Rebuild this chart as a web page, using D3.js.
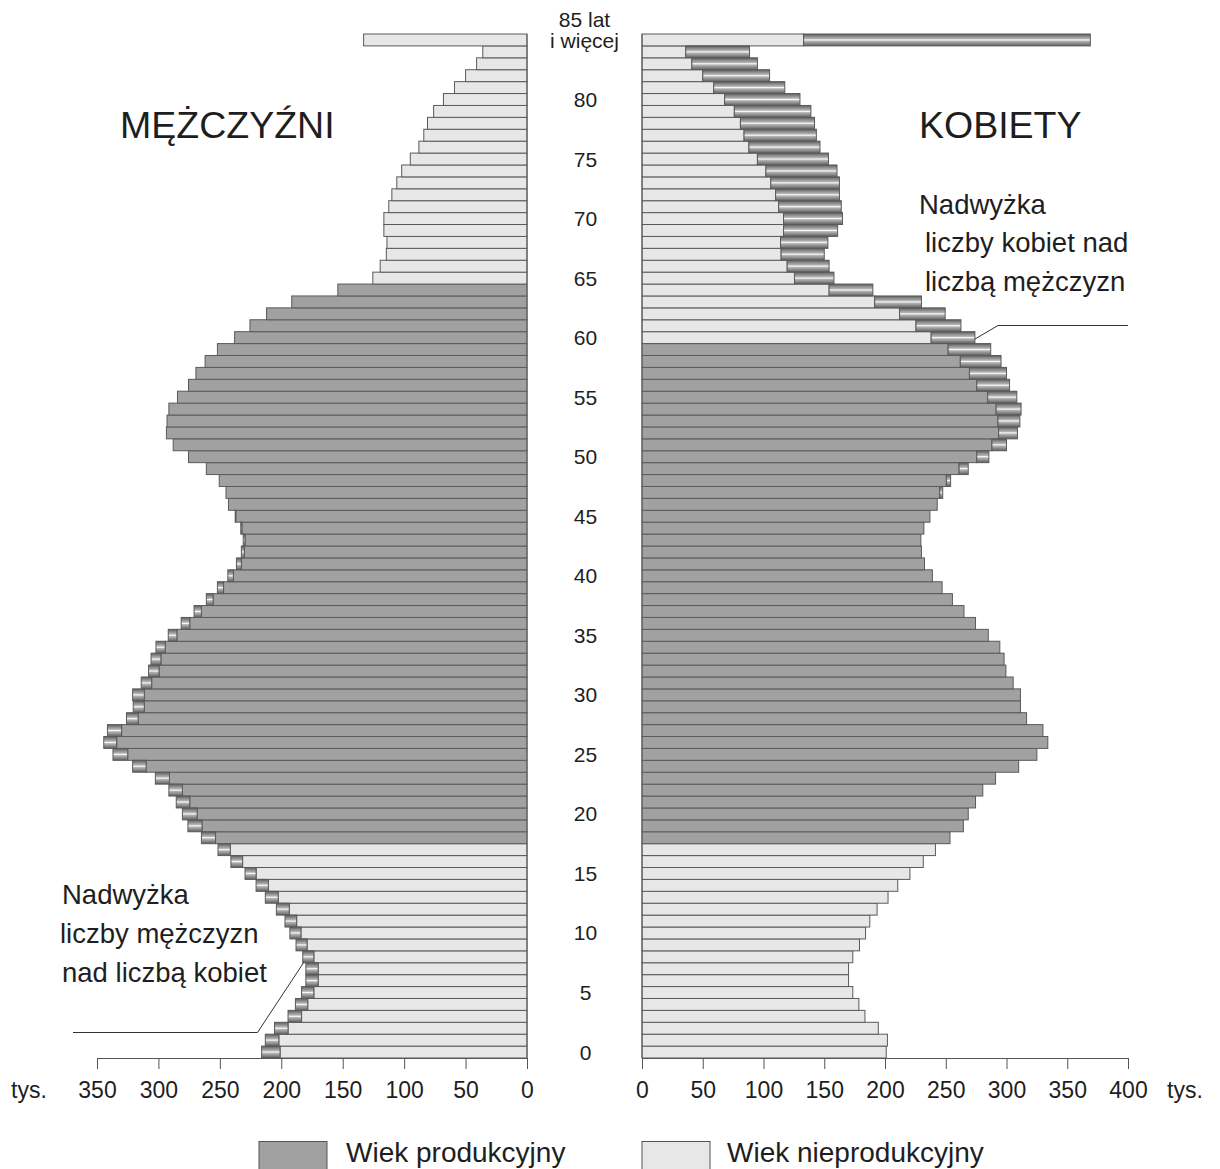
<!DOCTYPE html>
<html>
<head>
<meta charset="utf-8">
<script src="https://cdn.jsdelivr.net/npm/d3@7/dist/d3.min.js"></script>
<style>
  html, body { margin: 0; padding: 0; background: #fff; }
  svg { display: block; }
  text { font-family: "Liberation Sans", Arial, Helvetica, sans-serif; fill: #1e1e1e; }
</style>
</head>
<body>
<svg id="chart" width="1220" height="1169"></svg>
<script>
// ---- data (thousands) ----
const ages = [0,1,2,3,4,5,6,7,8,9,10,11,12,13,14,15,16,17,18,19,20,21,22,23,24,25,26,27,28,29,
  30,31,32,33,34,35,36,37,38,39,40,41,42,43,44,45,46,47,48,49,50,51,52,53,54,55,56,57,58,59,
  60,61,62,63,64,65,66,67,68,69,70,71,72,73,74,75,76,77,78,79,80,81,82,83,84,85];

const men = [216,213,205.5,194.5,188.5,183.5,180,180,182.5,188,193,197,204,213,220.5,229.5,241,251.5,265,276,
  280.5,285.5,291.5,302.5,321,337,344.5,341.5,326,320.5,321,314,308,306,302,292,281.5,271,261,252,
  243.5,236.5,232.5,231,233,237.5,243,245,250.5,261,275.5,288,293.5,293,291.5,284.5,275.5,269.5,262,252,
  238,225.5,212,191.5,154,125.5,119.5,114.5,114,116.5,116.5,112.5,110,106,102,95,88,84,81,76,
  68,59,50,41,36,133];

const women = [201,202,194.5,183.5,178.5,173.5,170,170,173.5,179,184,187.5,193.5,202.5,210.5,220.5,231.5,241.5,253.5,264.5,
  268.5,274.5,280.5,291,310,325,334,330,316.5,311.5,311.5,305.5,299.5,298,294.5,285,274.5,265,255.5,247,
  239,232.5,230,229.5,232,237,243,247.5,254,268.5,285.5,300,309,311,312,308.5,302.5,300,295.5,287,
  274,262.5,249.5,230,190,158,154,150,153,161,165,164,162.5,162.5,160.5,153.5,146.5,143.5,142,139,
  130,117.5,105,95,88.5,369];

const leftTicks = [0,50,100,150,200,250,300,350];
const rightTicks = [0,50,100,150,200,250,300,350,400];
const ageTicks = [0,5,10,15,20,25,30,35,40,45,50,55,60,65,70,75,80];
const topAgeLabel = ["85 lat", "i więcej"];
const menProductive = [18, 64];
const womenProductive = [18, 59];
const legendLabels = ["Wiek produkcyjny", "Wiek nieprodukcyjny"];
const unitLabel = "tys.";

// ---- layout ----
const svg = d3.select("#chart");
const DARK = "#a1a1a1", LIGHT = "#e7e7e7", STROKE = "#5a5a5a";

const y = d3.scaleBand().domain(ages.slice().reverse()).range([34, 1058]).padding(0);
const xL = d3.scaleLinear().domain([0, 350]).range([527, 97]);
const xR = d3.scaleLinear().domain([0, 400]).range([642, 1128]);

const defs = svg.append("defs");
const grad = defs.append("linearGradient").attr("id", "excess")
  .attr("x1", 0).attr("y1", 0).attr("x2", 0).attr("y2", 1);
[[0,"#5c5c5c"],[0.2,"#8a8a8a"],[0.4,"#b4b4b4"],[0.5,"#fbfbfb"],[0.6,"#b4b4b4"],[0.8,"#8a8a8a"],[1,"#5c5c5c"]]
  .forEach(([o,c]) => grad.append("stop").attr("offset", o).attr("stop-color", c));

const rows = ages.map((a, i) => ({ age: a, m: men[i], w: women[i] }));

const gBars = svg.append("g").attr("stroke", STROKE).attr("stroke-width", 1);

// left side (men)
gBars.selectAll(".lc").data(rows).join("rect").attr("class", "lc")
  .attr("x", d => xL(Math.min(d.m, d.w)))
  .attr("y", d => y(d.age))
  .attr("width", d => xL(0) - xL(Math.min(d.m, d.w)))
  .attr("height", y.bandwidth())
  .attr("fill", d => (d.age >= menProductive[0] && d.age <= menProductive[1]) ? DARK : LIGHT);

gBars.selectAll(".le").data(rows.filter(d => d.m > d.w)).join("rect").attr("class", "le")
  .attr("x", d => xL(d.m))
  .attr("y", d => y(d.age))
  .attr("width", d => xL(d.w) - xL(d.m))
  .attr("height", y.bandwidth())
  .attr("fill", "url(#excess)");

// right side (women)
gBars.selectAll(".rc").data(rows).join("rect").attr("class", "rc")
  .attr("x", xR(0))
  .attr("y", d => y(d.age))
  .attr("width", d => xR(Math.min(d.m, d.w)) - xR(0))
  .attr("height", y.bandwidth())
  .attr("fill", d => (d.age >= womenProductive[0] && d.age <= womenProductive[1]) ? DARK : LIGHT);

gBars.selectAll(".re").data(rows.filter(d => d.w > d.m)).join("rect").attr("class", "re")
  .attr("x", d => xR(d.m))
  .attr("y", d => y(d.age))
  .attr("width", d => xR(d.w) - xR(d.m))
  .attr("height", y.bandwidth())
  .attr("fill", "url(#excess)");

// spines
svg.append("line").attr("x1", xL(0)).attr("x2", xL(0)).attr("y1", 34).attr("y2", 1058)
  .attr("stroke", "#666").attr("stroke-width", 1.2);
svg.append("line").attr("x1", xR(0)).attr("x2", xR(0)).attr("y1", 34).attr("y2", 1058)
  .attr("stroke", "#666").attr("stroke-width", 1.2);

// axes
function styleAxis(g) {
  g.select(".domain").attr("stroke", "#555");
  g.selectAll(".tick line").attr("stroke", "#555");
  g.selectAll(".tick text").attr("font-size", 23)
    .attr("font-family", '"Liberation Sans", Arial, sans-serif').attr("fill", "#1e1e1e");
}
svg.append("g").attr("transform", "translate(0,1058)")
  .call(d3.axisBottom(xL).tickValues(leftTicks).tickSize(11).tickSizeOuter(0).tickPadding(13))
  .call(styleAxis);
svg.append("g").attr("transform", "translate(0,1058)")
  .call(d3.axisBottom(xR).tickValues(rightTicks).tickSize(11).tickSizeOuter(0).tickPadding(13))
  .call(styleAxis);

svg.append("text").attr("x", 29).attr("y", 1098).attr("text-anchor", "middle")
  .attr("font-size", 23).text(unitLabel);
svg.append("text").attr("x", 1185).attr("y", 1098).attr("text-anchor", "middle")
  .attr("font-size", 23).text(unitLabel);

// age labels
const midX = (xL(0) + xR(0)) / 2;
svg.selectAll(".age").data(ageTicks).join("text").attr("class", "age")
  .attr("x", midX + 1).attr("y", a => y(a) + y.bandwidth() / 2 + 7.5)
  .attr("text-anchor", "middle").attr("font-size", 21).text(a => a);
svg.append("text").attr("x", midX).attr("y", 26.5).attr("text-anchor", "middle")
  .attr("font-size", 21).text(topAgeLabel[0]);
svg.append("text").attr("x", midX).attr("y", 48).attr("text-anchor", "middle")
  .attr("font-size", 21).text(topAgeLabel[1]);

// titles
svg.append("text").attr("x", 120).attr("y", 138).attr("font-size", 37.5).text("MĘŻCZYŹNI");
svg.append("text").attr("x", 919).attr("y", 138).attr("font-size", 37.5).text("KOBIETY");

// annotations
const annR = [["Nadwyżka", 919, 214], ["liczby kobiet nad", 925, 252], ["liczbą mężczyzn", 925, 291]];
annR.forEach(([t, x, yy]) => svg.append("text").attr("x", x).attr("y", yy).attr("font-size", 27.5).text(t));
const annL = [["Nadwyżka", 62, 904], ["liczby mężczyzn", 60, 943], ["nad liczbą kobiet", 62, 982]];
annL.forEach(([t, x, yy]) => svg.append("text").attr("x", x).attr("y", yy).attr("font-size", 27.5).text(t));

svg.append("polyline").attr("points", "975,339 998,325.5 1128,325.5")
  .attr("fill", "none").attr("stroke", "#333").attr("stroke-width", 1);
svg.append("polyline").attr("points", "73,1032.5 257.5,1032.5 304,962")
  .attr("fill", "none").attr("stroke", "#333").attr("stroke-width", 1);

// legend
const legend = [[259, DARK, 346, legendLabels[0]], [642, LIGHT, 727, legendLabels[1]]];
legend.forEach(([bx, fill, tx, label]) => {
  svg.append("rect").attr("x", bx).attr("y", 1141.5).attr("width", 68).attr("height", 30)
    .attr("fill", fill).attr("stroke", "#555").attr("stroke-width", 1);
  svg.append("text").attr("x", tx).attr("y", 1162).attr("font-size", 28).text(label);
});
</script>
</body>
</html>
